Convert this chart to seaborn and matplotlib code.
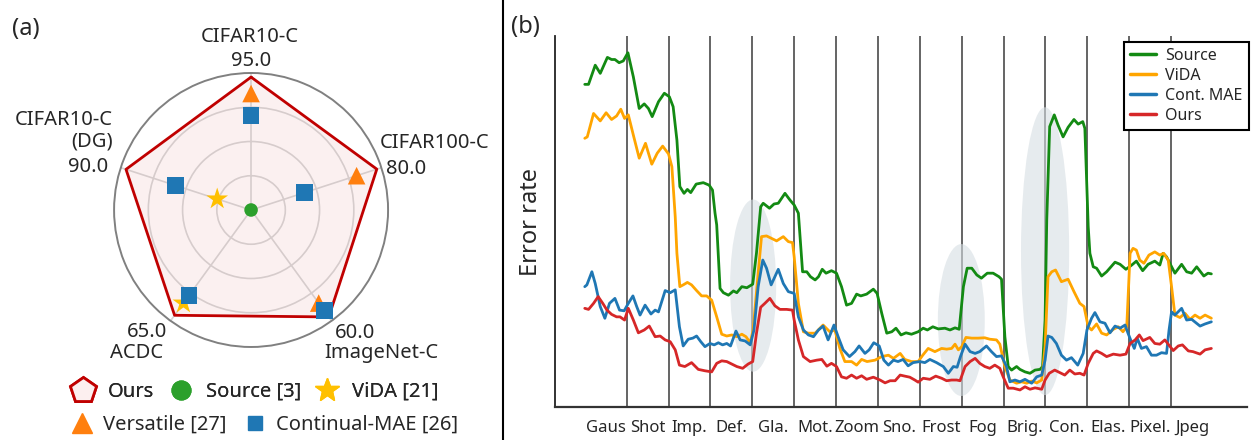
import numpy as np
import pandas as pd
import matplotlib
matplotlib.use('Agg')
import matplotlib.pyplot as plt
import seaborn as sns
from matplotlib.patches import Ellipse
from matplotlib.lines import Line2D

# ==========================================
# (a) radar data (normalised radius per axis)
# ==========================================
DATASETS = ['CIFAR10-C', 'CIFAR100-C', 'ImageNet-C', 'ACDC', 'CIFAR10-C\n(DG)']
OURS_SCORES = ['95.0', '80.0', '60.0', '65.0', '90.0']
ours_r = [0.97, 0.965, 0.965, 0.95, 0.96]
versatile_r = [0.85, 0.81, 0.84, np.nan, np.nan]
cmae_r = [0.69, 0.41, 0.91, 0.77, 0.58]
vida_r = [np.nan, np.nan, np.nan, 0.84, 0.26]
source_r = [0.0, 0.0, 0.0, 0.0, 0.0]

# ==========================================
# (b) error rate along the corruption stream
# ==========================================
CORRUPTIONS = ['Gaus', 'Shot', 'Imp.', 'Def.', 'Gla.', 'Mot.', 'Zoom', 'Sno.',
               'Frost', 'Fog', 'Brig.', 'Con.', 'Elas.', 'Pixel.', 'Jpeg']

src_x = [0, 0.09, 0.25, 0.37, 0.54, 0.64, 0.72, 0.82, 0.92, 1.03, 1.16, 1.30, 1.42, 1.52, 1.61,
         1.76, 1.90, 2.02, 2.11, 2.20, 2.27, 2.37, 2.45, 2.53, 2.66, 2.83, 2.97, 3.05, 3.11, 3.15,
         3.23, 3.31, 3.43, 3.55, 3.63, 3.75, 3.87, 4.01, 4.10, 4.20, 4.26, 4.41, 4.52, 4.62, 4.78,
         4.90, 5.00, 5.10, 5.20, 5.30, 5.39, 5.50, 5.58, 5.67, 5.76, 5.89, 6.01, 6.13, 6.25, 6.37,
         6.49, 6.59, 6.73, 6.89, 6.98, 7.09, 7.21, 7.33, 7.43, 7.55, 7.67, 7.80, 7.96, 8.08, 8.18,
         8.31, 8.44, 8.60, 8.72, 8.84, 8.94, 9.04, 9.13, 9.24, 9.36, 9.47, 9.61, 9.75, 9.89, 9.95,
         10.03, 10.11, 10.19, 10.31, 10.39, 10.51, 10.63, 10.75, 10.87, 10.93, 10.99, 11.03, 11.10,
         11.21, 11.30, 11.42, 11.54, 11.68, 11.78, 11.89, 11.94, 12.02, 12.06, 12.14, 12.22, 12.34,
         12.46, 12.66, 12.78, 12.92, 13.06, 13.17, 13.32, 13.45, 13.61, 13.73, 13.81, 13.89, 14.01,
         14.09, 14.25, 14.37, 14.49, 14.61, 14.78, 14.88, 14.96]
src_y = [90.9, 90.9, 96.3, 94.0, 98.5, 97.9, 97.9, 97.0, 97.5, 99.8, 93.0, 84.1, 85.4, 84.1, 81.8,
         86.0, 88.4, 87.4, 84.6, 75.2, 62.1, 60.2, 61.3, 60.4, 62.8, 63.2, 62.5, 61.1, 54.6, 51.3,
         33.4, 32.2, 31.5, 32.7, 32.2, 33.9, 33.6, 34.6, 43.4, 56.4, 57.4, 56.0, 57.2, 57.4, 60.2,
         58.3, 56.9, 54.6, 38.1, 38.1, 36.7, 35.8, 36.7, 38.8, 37.7, 38.4, 37.7, 33.9, 28.7, 29.2,
         31.8, 31.3, 31.8, 33.2, 32.0, 26.4, 20.8, 21.2, 22.2, 20.3, 20.9, 20.5, 21.2, 22.2, 21.7,
         22.6, 22.0, 22.2, 21.7, 22.3, 21.9, 33.9, 39.1, 39.1, 37.2, 36.3, 37.7, 37.7, 36.7, 36.0,
         19.8, 11.4, 10.4, 11.4, 10.6, 9.9, 9.5, 10.4, 10.6, 11.4, 24.5, 52.7, 79.0,
         82.3, 79.4, 76.1, 78.8, 81.0, 79.7, 80.4, 78.5, 50.8, 43.3, 39.5, 39.1, 36.9,
         38.1, 40.8, 40.2, 38.8, 40.0, 41.1, 38.4, 40.2, 41.1, 40.0, 43.3, 42.3, 39.5,
         37.7, 40.2, 38.1, 37.7, 39.5, 36.9, 37.7, 37.5]

vida_x = [0, 0.06, 0.21, 0.37, 0.51, 0.64, 0.76, 0.86, 0.95, 1.04, 1.16, 1.30, 1.45, 1.60, 1.73,
          1.86, 2.00, 2.08, 2.16, 2.20, 2.27, 2.35, 2.45, 2.55, 2.67, 2.79, 2.91, 3.03, 3.15, 3.27,
          3.39, 3.51, 3.63, 3.75, 3.85, 3.95, 4.02, 4.14, 4.22, 4.34, 4.46, 4.58, 4.74, 4.86, 4.96,
          5.00, 5.10, 5.22, 5.34, 5.50, 5.69, 5.85, 5.97, 6.09, 6.21, 6.37, 6.49, 6.61, 6.74, 6.93,
          7.09, 7.25, 7.37, 7.53, 7.64, 7.80, 7.96, 8.07, 8.20, 8.36, 8.52, 8.64, 8.76, 8.84, 8.92,
          9.00, 9.10, 9.24, 9.39, 9.55, 9.67, 9.83, 9.91, 10.03, 10.15, 10.31, 10.43, 10.55, 10.67,
          10.79, 10.91, 10.99, 11.06, 11.15, 11.24, 11.38, 11.54, 11.68, 11.82, 11.92, 12.02, 12.10,
          12.22, 12.34, 12.46, 12.62, 12.74, 12.85, 12.94, 13.02, 13.09, 13.17, 13.25, 13.35, 13.47,
          13.61, 13.73, 13.82, 13.93, 14.01, 14.09, 14.21, 14.33, 14.45, 14.57, 14.69, 14.81, 14.96]
vida_y = [75.7, 76.1, 82.7, 80.6, 82.9, 81.0, 82.0, 83.9, 81.3, 82.3, 76.6, 70.1, 74.3, 68.4, 71.5,
          73.5, 71.3, 67.7, 53.6, 43.3, 33.9, 34.4, 35.1, 34.4, 32.8, 31.3, 31.3, 30.1, 25.4, 20.5,
          20.0, 20.3, 19.8, 20.5, 19.8, 18.1, 21.7, 37.7, 48.0, 48.2, 47.5, 46.8, 48.0, 46.6, 46.3,
          42.3, 29.2, 21.2, 20.8, 20.8, 23.1, 21.2, 21.7, 16.5, 12.8, 12.8, 11.8, 13.4, 12.8, 13.2,
          14.2, 14.6, 13.7, 15.1, 13.4, 12.8, 12.8, 14.6, 16.5, 15.6, 16.5, 16.3, 16.5, 17.7, 16.1,
          17.0, 19.6, 19.4, 19.4, 19.5, 19.1, 18.9, 17.7, 11.4, 7.6, 6.7, 7.1, 6.7, 7.3,
          6.8, 7.6, 17.0, 36.7, 38.1, 38.6, 35.3, 36.0, 32.5, 29.2, 28.3, 22.6, 21.7,
          23.4, 20.8, 20.3, 21.9, 22.6, 21.2, 22.6, 43.3, 44.7, 44.2, 41.4, 40.5, 42.8,
          43.7, 42.8, 43.3, 41.4, 33.9, 25.9, 25.2, 26.4, 24.7, 25.9, 25.0, 25.9, 25.0]

cmae_x = [0, 0.05, 0.17, 0.25, 0.37, 0.48, 0.59, 0.72, 0.83, 0.94, 1.04, 1.15, 1.24, 1.32, 1.44,
          1.58, 1.68, 1.76, 1.92, 2.04, 2.16, 2.26, 2.35, 2.47, 2.58, 2.67, 2.77, 2.87, 2.99, 3.09,
          3.19, 3.29, 3.39, 3.48, 3.61, 3.71, 3.83, 3.95, 4.04, 4.14, 4.25, 4.34, 4.45, 4.62, 4.74,
          4.86, 5.00, 5.10, 5.22, 5.34, 5.46, 5.58, 5.69, 5.81, 5.95, 6.05, 6.17, 6.32, 6.45, 6.55,
          6.69, 6.79, 6.90, 7.03, 7.14, 7.25, 7.37, 7.48, 7.60, 7.72, 7.84, 8.00, 8.12, 8.24, 8.40,
          8.56, 8.68, 8.80, 8.89, 8.97, 9.08, 9.20, 9.32, 9.43, 9.59, 9.71, 9.83, 9.95, 10.07,
          10.15, 10.27, 10.39, 10.51, 10.67, 10.79, 10.91, 10.99, 11.06, 11.15, 11.26, 11.38, 11.50,
          11.62, 11.77, 11.90, 11.99, 12.10, 12.18, 12.30, 12.42, 12.54, 12.66, 12.78, 12.90, 12.97,
          13.05, 13.12, 13.19, 13.29, 13.41, 13.53, 13.65, 13.77, 13.89, 13.95, 14.01, 14.09, 14.25,
          14.37, 14.49, 14.69, 14.81, 14.96]
cmae_y = [33.9, 34.4, 38.1, 34.8, 28.3, 25.0, 29.2, 30.6, 27.3, 27.1, 29.2, 31.3, 28.3, 25.9, 28.7,
          26.2, 27.3, 26.8, 32.8, 32.2, 33.0, 22.6, 17.2, 19.1, 19.4, 20.0, 18.4, 17.0, 17.9, 17.5,
          18.1, 17.5, 17.9, 17.2, 21.4, 18.9, 18.6, 17.5, 21.7, 33.9, 41.4, 39.1, 34.4, 38.8, 34.8,
          32.5, 32.0, 25.4, 21.7, 20.3, 19.8, 21.7, 22.8, 18.9, 23.1, 19.8, 16.1, 14.2, 15.6, 17.2,
          15.1, 16.1, 18.1, 17.2, 13.2, 11.8, 13.2, 12.8, 13.4, 11.6, 12.5, 12.8, 12.5, 13.4, 12.5,
          11.4, 9.5, 11.4, 11.2, 14.2, 17.7, 15.6, 15.1, 15.6, 17.2, 15.6, 14.2, 14.4, 11.4,
          7.1, 7.6, 7.1, 7.8, 6.7, 8.5, 9.0, 13.2, 20.0, 19.6, 17.9, 14.6, 13.2,
          13.9, 11.8, 15.1, 21.7, 25.0, 26.6, 24.0, 23.6, 20.9, 22.8, 22.2, 23.1, 20.8,
          18.4, 16.5, 19.4, 16.5, 17.0, 14.6, 14.6, 15.3, 15.1, 21.7, 26.8, 25.9, 27.8,
          24.5, 24.7, 22.8, 23.4, 24.0]

ours_x = [0, 0.09, 0.21, 0.32, 0.43, 0.53, 0.64, 0.76, 0.84, 0.95, 1.04, 1.16, 1.28, 1.42, 1.54,
          1.68, 1.80, 1.92, 2.04, 2.16, 2.26, 2.39, 2.55, 2.71, 2.87, 3.03, 3.15, 3.27, 3.39, 3.51,
          3.63, 3.77, 3.90, 4.01, 4.10, 4.20, 4.30, 4.42, 4.54, 4.66, 4.82, 4.96, 5.00, 5.10, 5.22,
          5.38, 5.54, 5.66, 5.78, 5.89, 6.01, 6.13, 6.25, 6.37, 6.49, 6.61, 6.73, 6.89, 7.05, 7.17,
          7.29, 7.41, 7.53, 7.64, 7.76, 7.88, 7.96, 8.08, 8.24, 8.38, 8.52, 8.64, 8.76, 8.88, 8.96,
          9.08, 9.20, 9.32, 9.43, 9.55, 9.67, 9.79, 9.91, 9.99, 10.11, 10.23, 10.39, 10.51, 10.63,
          10.75, 10.91, 10.99, 11.09, 11.22, 11.34, 11.46, 11.58, 11.70, 11.82, 11.92, 12.02, 12.14,
          12.22, 12.34, 12.46, 12.62, 12.78, 12.92, 13.02, 13.14, 13.24, 13.33, 13.49, 13.61, 13.73,
          13.85, 13.93, 14.05, 14.17, 14.27, 14.41, 14.52, 14.69, 14.81, 14.96]
ours_y = [27.8, 27.5, 29.2, 31.1, 29.2, 27.3, 26.1, 25.4, 25.4, 24.5, 27.8, 24.5, 20.9, 21.7, 22.8,
          19.8, 20.0, 18.9, 18.4, 16.1, 11.8, 11.4, 12.5, 10.6, 10.2, 9.9, 12.3, 13.0, 12.8, 12.1,
          11.4, 10.9, 12.1, 12.8, 20.8, 28.1, 29.2, 30.6, 28.5, 27.5, 27.5, 27.3, 24.5, 18.9, 14.2,
          12.8, 13.2, 13.4, 11.5, 12.3, 11.4, 8.5, 8.1, 9.0, 8.1, 8.8, 7.8, 8.4, 7.6, 6.8,
          7.4, 7.4, 9.0, 8.7, 8.4, 7.6, 7.0, 8.1, 7.8, 8.7, 8.1, 7.4, 7.6, 7.6, 7.4,
          11.4, 12.8, 13.7, 12.3, 11.4, 10.9, 11.8, 10.9, 8.5, 5.3, 5.3, 4.8, 5.7, 5.0,
          5.4, 5.0, 7.6, 9.5, 10.4, 9.7, 9.0, 10.4, 9.3, 9.5, 9.0, 12.3, 15.1,
          15.8, 15.1, 14.2, 14.9, 14.6, 14.9, 17.9, 18.9, 20.3, 18.7, 19.6, 17.9, 17.7,
          18.9, 17.7, 15.9, 17.2, 17.5, 15.8, 15.6, 14.9, 16.1, 16.5]

# grey highlight ovals (centre x, centre y, width, height in data units)
HIGHLIGHT_X = [4.02, 8.99, 10.99]
HIGHLIGHT_Y = [34.2, 24.5, 43.9]
HIGHLIGHT_W = [1.10, 1.12, 1.15]
HIGHLIGHT_H = [48.5, 42.8, 81.1]

# ==========================================
# style
# ==========================================
sns.set_style('white')
plt.rcParams['font.family'] = ['Noto Sans', 'DejaVu Sans']

fig = plt.figure(figsize=(12.56, 4.4), dpi=100)

# ------------------------------------------
# (a) radar
# ------------------------------------------
ax_r = fig.add_axes([0.0908, 0.2114, 0.2182, 0.6227], projection='polar')
ax_r.set_theta_offset(np.pi / 2)
ax_r.set_theta_direction(-1)
theta = np.arange(len(DATASETS)) * 2 * np.pi / len(DATASETS)

ax_r.set_ylim(0, 1)
ax_r.set_xticks(theta)
ax_r.set_xticklabels([])
ax_r.set_yticks([0.25, 0.5, 0.75])
ax_r.set_yticklabels([])
ax_r.grid(True, color='#d4d4d4', linewidth=1.2)
ax_r.spines['polar'].set_color('#808080')
ax_r.spines['polar'].set_linewidth(1.4)

theta_c = np.append(theta, theta[0])
ours_c = np.append(ours_r, ours_r[0])
# translucent fill so the grid rings show through it
ax_r.fill(theta_c, ours_c, facecolor='#e8a0a0', alpha=0.15, edgecolor='none', zorder=2)
ax_r.plot(theta_c, ours_c, color='#c00000', linewidth=2, zorder=3)

radar_df = pd.DataFrame({'theta': theta, 'source': source_r, 'vida': vida_r,
                         'versatile': versatile_r, 'cmae': cmae_r})
sns.scatterplot(data=radar_df, x='theta', y='versatile', ax=ax_r, marker='^', s=160,
                color='#ff7f0e', edgecolor='none', zorder=4, legend=False)
sns.scatterplot(data=radar_df, x='theta', y='cmae', ax=ax_r, marker='s', s=145,
                color='#1f77b4', edgecolor='none', zorder=5, legend=False)
sns.scatterplot(data=radar_df, x='theta', y='vida', ax=ax_r, marker='*', s=270,
                color='#ffc000', edgecolor='none', zorder=4, legend=False)
sns.scatterplot(data=radar_df.iloc[:1], x='theta', y='source', ax=ax_r, marker='o', s=95,
                color='#2ca02c', edgecolor='none', zorder=6, legend=False)
ax_r.set_xlabel('')
ax_r.set_ylabel('')

lab_fs = 14.5
tr = ax_r.transAxes
ax_r.text(0.496, 1.131, DATASETS[0], transform=tr, ha='center', va='center', fontsize=lab_fs)
ax_r.text(0.5, 1.044, OURS_SCORES[0], transform=tr, ha='center', va='center', fontsize=lab_fs)
ax_r.text(0.968, 0.743, DATASETS[1], transform=tr, ha='left', va='center', fontsize=lab_fs)
ax_r.text(0.993, 0.649, OURS_SCORES[1], transform=tr, ha='left', va='center', fontsize=lab_fs)
ax_r.text(0.807, 0.05, OURS_SCORES[2], transform=tr, ha='left', va='center', fontsize=lab_fs)
ax_r.text(0.766, -0.021, DATASETS[2], transform=tr, ha='left', va='center', fontsize=lab_fs)
ax_r.text(0.194, 0.056, OURS_SCORES[3], transform=tr, ha='right', va='center', fontsize=lab_fs)
ax_r.text(0.178, -0.023, DATASETS[3], transform=tr, ha='right', va='center', fontsize=lab_fs)
ax_r.text(-0.006, 0.789, DATASETS[4], transform=tr, ha='right', va='center',
          multialignment='right', fontsize=lab_fs, linespacing=1.05)
ax_r.text(-0.02, 0.658, OURS_SCORES[4], transform=tr, ha='right', va='center', fontsize=lab_fs)

row1 = [Line2D([], [], ls='none', marker='p', ms=19, mfc='#fcefef', mec='#c00000', mew=2),
        Line2D([], [], ls='none', marker='o', ms=13.5, color='#2ca02c'),
        Line2D([], [], ls='none', marker='*', ms=18, color='#ffc000')]
row2 = [Line2D([], [], ls='none', marker='^', ms=14, color='#ff7f0e'),
        Line2D([], [], ls='none', marker='s', ms=10.5, color='#1f77b4')]
leg1 = fig.legend(row1, ['Ours', 'Source [3]', 'ViDA [21]'], loc='center left',
                  bbox_to_anchor=(0.058, 0.11), ncol=3, frameon=False, fontsize=lab_fs,
                  handlelength=1.0, handletextpad=0.75, columnspacing=0.8,
                  borderpad=0, borderaxespad=0)
leg2 = fig.legend(row2, ['Versatile [27]', 'Continual-MAE [26]'], loc='center left',
                  bbox_to_anchor=(0.057, 0.034), ncol=2, frameon=False, fontsize=lab_fs,
                  handlelength=1.0, handletextpad=0.55, columnspacing=0.9,
                  borderpad=0, borderaxespad=0)
fig.add_artist(leg1)

fig.text(0.0095, 0.934, '(a)', fontsize=17, ha='left', va='center')

# ------------------------------------------
# (b) error-rate stream
# ------------------------------------------
ax = fig.add_axes([0.4419, 0.075, 0.5509, 0.843])
ax.set_xlim(-0.71, 15.81)
ax.set_ylim(0, 104.5)

for cx, cy, w, h in zip(HIGHLIGHT_X, HIGHLIGHT_Y, HIGHLIGHT_W, HIGHLIGHT_H):
    ax.add_patch(Ellipse((cx, cy), w, h, facecolor='#d6dee3', edgecolor='none',
                         alpha=0.6, zorder=1.5))

ax.vlines(np.arange(1, len(CORRUPTIONS)), 0, 104.5, colors='#3a3a3a', linewidth=1.1, zorder=1)

series = [('Source', src_x, src_y, '#138a13'),
          ('ViDA', vida_x, vida_y, '#ffa500'),
          ('Cont. MAE', cmae_x, cmae_y, '#1f77b4'),
          ('Ours', ours_x, ours_y, '#d62728')]
for name, xs, ys, col in series:
    sns.lineplot(x=xs, y=ys, ax=ax, color=col, linewidth=2.0, sort=False,
                 estimator=None, zorder=3, solid_joinstyle='round')

ax.set_xticks(np.arange(len(CORRUPTIONS)) + 0.5)
ax.set_xticklabels(CORRUPTIONS, fontsize=12)
ax.tick_params(axis='x', length=0, pad=9)
ax.tick_params(axis='y', left=False, labelleft=False)
ax.set_ylabel('Error rate', fontsize=17, labelpad=9)
for side in ['top', 'right']:
    ax.spines[side].set_visible(False)
ax.spines['left'].set_color('#222222')
ax.spines['bottom'].set_color('#333333')
ax.spines['left'].set_linewidth(1.3)
ax.spines['bottom'].set_linewidth(1.6)

handles = [Line2D([], [], color=c, linewidth=2.5) for _, _, _, c in series]
ax.legend(handles, [s[0] for s in series], loc='upper right', bbox_to_anchor=(1.003, 0.985),
          borderaxespad=0, fontsize=11.5, frameon=True, fancybox=False, framealpha=1,
          edgecolor='black', handlelength=1.6, handletextpad=0.6, labelspacing=0.25,
          borderpad=0.4)
ax.get_legend().get_frame().set_linewidth(1.5)

fig.text(0.407, 0.938, '(b)', fontsize=17, ha='left', va='center')
fig.add_artist(Line2D([0.4002, 0.4002], [0, 1], transform=fig.transFigure,
                      color='black', linewidth=1.5))

fig.savefig('out.png', dpi=100)
